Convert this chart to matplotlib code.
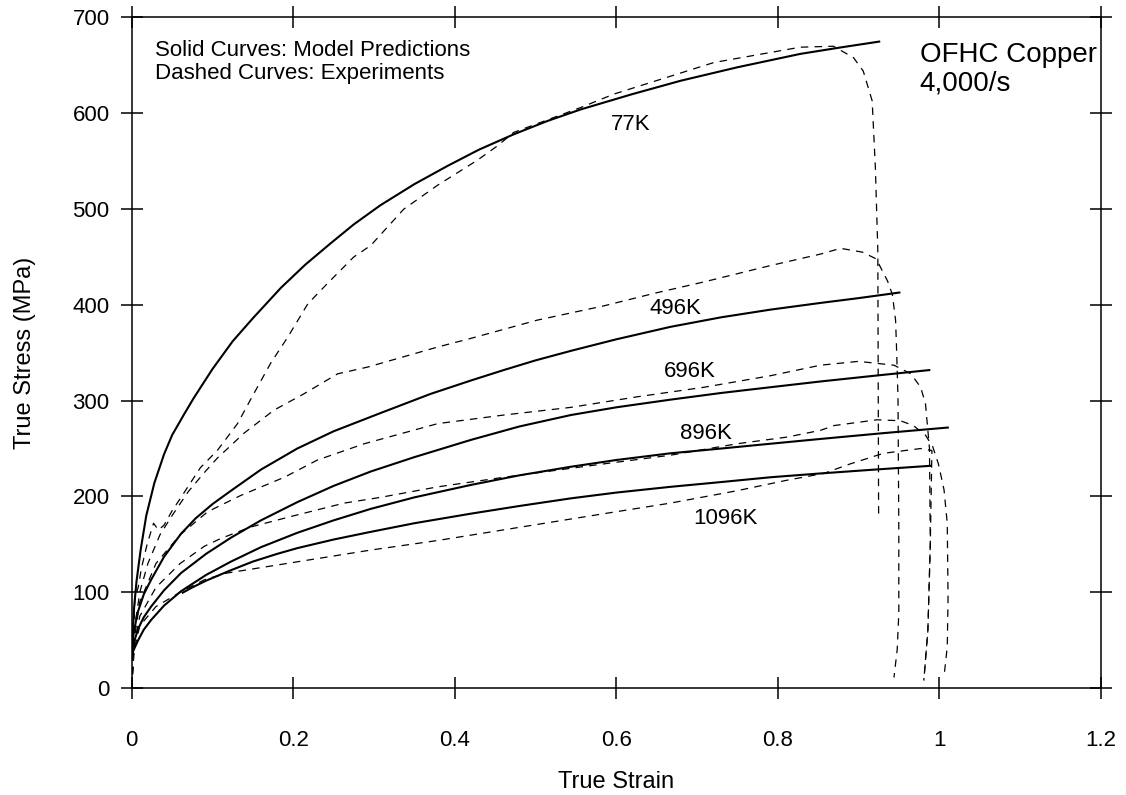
import numpy as np
import matplotlib
matplotlib.use('Agg')
import matplotlib.pyplot as plt

plt.rcParams['font.family'] = ['Liberation Sans', 'DejaVu Sans']

# model predictions (solid)
model_77_x = [0, 0.001, 0.003, 0.006, 0.011, 0.018, 0.028, 0.04, 0.05, 0.065, 0.077, 0.1, 0.125, 0.15, 0.185,
              0.215, 0.246, 0.275, 0.308, 0.35, 0.391, 0.43, 0.473, 0.515, 0.556, 0.62, 0.68, 0.75, 0.828, 0.88, 0.927]
model_77_y = [30, 55, 85, 112, 144, 180, 214, 244, 264, 286, 303, 333, 362, 386, 418,
              442, 464, 484, 504, 526, 545, 562, 578, 592, 604, 620, 634, 648, 662, 669, 675]

model_496_x = [0, 0.002, 0.007, 0.015, 0.024, 0.04, 0.061, 0.079, 0.1, 0.123, 0.16, 0.205, 0.25, 0.308, 0.37,
               0.42, 0.461, 0.5, 0.544, 0.6, 0.667, 0.73, 0.791, 0.853, 0.9, 0.952]
model_496_y = [40, 55, 78, 98, 113, 137, 161, 177, 192, 206, 228, 250, 268, 287, 307,
               321, 332, 342, 352, 364, 377, 387, 395, 402, 407, 413]

model_696_x = [0, 0.002, 0.008, 0.015, 0.024, 0.04, 0.061, 0.092, 0.123, 0.16, 0.205, 0.25, 0.296, 0.35,
               0.42, 0.48, 0.544, 0.6, 0.667, 0.73, 0.791, 0.853, 0.92, 0.989]
model_696_y = [35, 46, 62, 74, 85, 102, 120, 140, 157, 175, 194, 211, 226, 241,
               259, 273, 285, 293, 301, 308, 314, 320, 326, 332]

model_896_x = [0, 0.002, 0.008, 0.015, 0.024, 0.04, 0.061, 0.092, 0.123, 0.16, 0.205, 0.25, 0.296, 0.35,
               0.42, 0.48, 0.544, 0.6, 0.667, 0.73, 0.791, 0.853, 0.93, 1.012]
model_896_y = [30, 39, 50, 61, 71, 86, 101, 118, 132, 147, 162, 175, 187, 199,
               212, 222, 231, 238, 245, 250, 255, 260, 266, 272]

model_1096_x = [0.062, 0.075, 0.092, 0.12, 0.15, 0.18, 0.205, 0.25, 0.296, 0.35, 0.42, 0.48, 0.544, 0.6,
                0.667, 0.73, 0.791, 0.853, 0.92, 0.99]
model_1096_y = [99, 105, 112, 122, 132, 140, 146, 155, 163, 172, 182, 190, 198, 204,
                210, 215, 220, 224, 228, 232]

# experiments (dashed)
exp_77_x = [0, 0.002, 0.004, 0.008, 0.012, 0.019, 0.027, 0.033, 0.04, 0.05, 0.061, 0.085, 0.106, 0.131, 0.151,
            0.172, 0.193, 0.218, 0.242, 0.275, 0.296, 0.337, 0.379, 0.428, 0.453, 0.473, 0.556, 0.597, 0.721,
            0.828, 0.869, 0.894, 0.906, 0.917, 0.921, 0.924, 0.925]
exp_77_y = [0, 50, 95, 105, 125, 150, 172, 165, 170, 185, 199, 230, 248, 276, 307,
            339, 366, 401, 422, 450, 462, 500, 525, 551, 566, 580, 606, 620, 653,
            669, 670, 658, 644, 613, 543, 457, 178]

exp_496_x = [0, 0.003, 0.01, 0.02, 0.035, 0.05, 0.07, 0.09, 0.106, 0.139, 0.176, 0.213, 0.255, 0.292, 0.379,
             0.42, 0.502, 0.585, 0.647, 0.709, 0.791, 0.853, 0.878, 0.905, 0.922, 0.936, 0.942, 0.946, 0.947,
             0.949, 0.95, 0.95, 0.948, 0.944]
exp_496_y = [0, 60, 100, 130, 160, 180, 205, 225, 240, 266, 290, 307, 328, 335, 356,
             365, 384, 399, 412, 424, 441, 453, 459, 455, 448, 425, 411, 384, 360,
             303, 165, 78, 40, 11]

exp_696_x = [0, 0.003, 0.01, 0.03, 0.06, 0.094, 0.135, 0.189, 0.23, 0.288, 0.379, 0.461, 0.544, 0.626, 0.709,
             0.791, 0.853, 0.9, 0.944, 0.965, 0.977, 0.983, 0.988, 0.989, 0.986, 0.981]
exp_696_y = [0, 50, 90, 130, 160, 184, 201, 220, 238, 255, 276, 285, 293, 304, 314,
             326, 337, 341, 337, 328, 314, 297, 250, 150, 60, 8]

exp_896_x = [0, 0.003, 0.01, 0.03, 0.06, 0.09, 0.11, 0.147, 0.197, 0.263, 0.308, 0.379, 0.461, 0.585, 0.667,
             0.75, 0.812, 0.853, 0.87, 0.923, 0.952, 0.968, 0.983, 0.992, 0.999, 1.006, 1.01, 1.011, 1.01, 1.006]
exp_896_y = [0, 45, 75, 105, 130, 148, 156, 168, 179, 193, 199, 210, 220, 234, 243,
             255, 262, 269, 274, 280, 279, 274, 264, 252, 234, 207, 172, 95, 43, 12]

exp_1096_x = [0, 0.003, 0.01, 0.03, 0.06, 0.09, 0.118, 0.296, 0.379, 0.482, 0.585, 0.667, 0.75, 0.812, 0.857,
              0.89, 0.931, 0.977, 0.991, 0.989, 0.986, 0.981]
exp_1096_y = [0, 40, 65, 85, 100, 113, 120, 144, 154, 168, 182, 193, 206, 217, 224,
              234, 245, 250, 248, 150, 60, 8]

temp_labels = ['77K', '496K', '696K', '896K', '1096K']
label_x = [0.593, 0.641, 0.659, 0.679, 0.696]
label_y = [588, 396, 330, 266, 177]

x_ticks = [0, 0.2, 0.4, 0.6, 0.8, 1.0, 1.2]
x_ticklabels = ['0', '0.2', '0.4', '0.6', '0.8', '1', '1.2']
y_ticks = [0, 100, 200, 300, 400, 500, 600, 700]

fig = plt.figure(figsize=(11.26, 7.95), dpi=100)
ax = fig.add_axes([0.117, 0.1346, 0.8605, 0.8434])

models = [(model_77_x, model_77_y), (model_496_x, model_496_y), (model_696_x, model_696_y),
          (model_896_x, model_896_y), (model_1096_x, model_1096_y)]
exps = [(exp_77_x, exp_77_y), (exp_496_x, exp_496_y), (exp_696_x, exp_696_y),
        (exp_896_x, exp_896_y), (exp_1096_x, exp_1096_y)]

for mx, my in models:
    ax.plot(mx, my, color='black', lw=1.5, solid_capstyle='butt', solid_joinstyle='round')
for ex, ey in exps:
    ax.plot(ex, ey, color='black', lw=0.9, linestyle=(0, (6, 5)))

for lab, lx, ly in zip(temp_labels, label_x, label_y):
    ax.text(lx, ly, lab, fontsize=16, va='center', ha='left')

ax.text(0.0294, 676, 'Solid Curves: Model Predictions\nDashed Curves: Experiments',
        fontsize=16, va='top', ha='left', linespacing=1.1)
ax.text(0.976, 674, 'OFHC Copper\n4,000/s', fontsize=20, va='top', ha='left', linespacing=1.1)

ax.set_xlim(0, 1.2)
ax.set_ylim(0, 700)
ax.set_xticks(x_ticks)
ax.set_xticklabels(x_ticklabels)
ax.set_yticks(y_ticks)
ax.tick_params(direction='inout', length=16, width=1.1, labelsize=16,
               top=True, right=True)
ax.tick_params(axis='x', pad=22)
ax.tick_params(axis='y', pad=8)
for s in ax.spines.values():
    s.set_linewidth(1.1)

ax.set_xlabel('True Strain', fontsize=17, labelpad=15)
ax.set_ylabel('True Stress (MPa)', fontsize=17, labelpad=26)

fig.savefig('out.png', dpi=100)
